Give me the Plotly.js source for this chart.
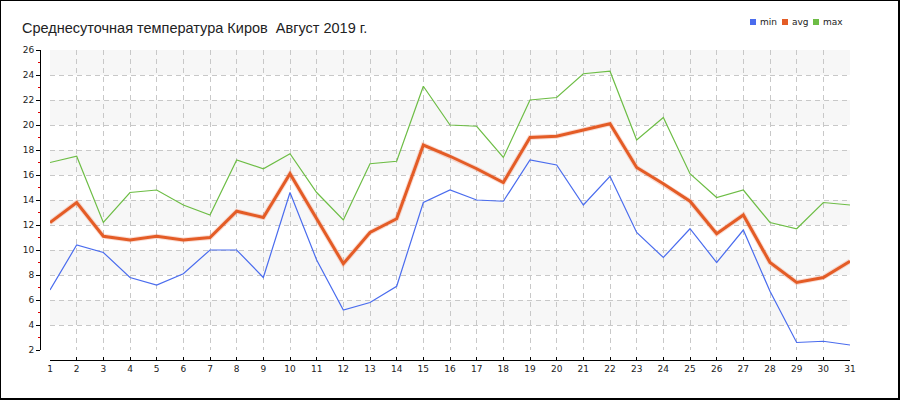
<!DOCTYPE html>
<html>
<head>
<meta charset="utf-8">
<script src="https://cdn.plot.ly/plotly-3.0.1.min.js"></script>
<style>
  html, body { margin: 0; padding: 0; background: #fff; }
  #wrap { position: relative; width: 900px; height: 400px; box-sizing: border-box;
          border-left: 1px solid #000; border-top: 1px solid #000;
          border-right: 2px solid #000; border-bottom: 2px solid #000; overflow: hidden; }
  #chart { position: absolute; left: -1px; top: -1px; width: 900px; height: 400px; }
</style>
</head>
<body>
<div id="wrap"><div id="chart"></div></div>
<script>
const days = [1,2,3,4,5,6,7,8,9,10,11,12,13,14,15,16,17,18,19,20,21,22,23,24,25,26,27,28,29,30,31];
const minT = [6.8,10.4,9.8,7.8,7.2,8.1,10.0,10.0,7.8,14.6,9.2,5.2,5.8,7.1,13.8,14.8,14.0,13.9,17.2,16.8,13.6,15.9,11.4,9.4,11.7,9.0,11.6,6.7,2.6,2.7,2.4];
const avgT = [12.2,13.8,11.1,10.8,11.1,10.8,11.0,13.1,12.6,16.1,12.5,8.9,11.4,12.5,18.4,17.5,16.5,15.4,19.0,19.1,19.6,20.1,16.6,15.3,13.9,11.3,12.8,9.0,7.4,7.8,9.1];
const maxT = [17.0,17.5,12.2,14.6,14.8,13.6,12.8,17.2,16.5,17.7,14.6,12.4,16.9,17.1,23.1,20.0,19.9,17.4,22.0,22.2,24.1,24.3,18.8,20.6,16.1,14.2,14.8,12.2,11.7,13.8,13.6];
const yTicks = [2,4,6,8,10,12,14,16,18,20,22,24,26];
const seriesNames = ['min','avg','max'];
const titleText = 'Среднесуточная температура Киров\u00a0 Август 2019 г.';

const colors = { min: '#4a6cee', avg: '#e45c26', max: '#6dbd45' };

const traces = [
  { x: days, y: maxT, name: 'max', mode: 'lines', line: { color: colors.max, width: 1.2 }, showlegend: false },
  { x: days, y: minT, name: 'min', mode: 'lines', line: { color: colors.min, width: 1.2 }, showlegend: false },
  { x: days, y: avgT, name: 'avg shadow', mode: 'lines', line: { color: 'rgba(240,140,110,0.3)', width: 5 }, showlegend: false, hoverinfo: 'skip' },
  { x: days, y: avgT, name: 'avg', mode: 'lines', line: { color: colors.avg, width: 3 }, showlegend: false }
];

// alternating background bands between even ticks
const shapes = [];
for (let i = 0; i < yTicks.length - 1; i++) {
  if ((yTicks.length - 2 - i) % 2 === 0) {
    shapes.push({ type: 'rect', xref: 'x domain', yref: 'y', x0: 0, x1: 1, y0: yTicks[i], y1: yTicks[i+1],
      fillcolor: '#f7f7f7', line: { width: 0 }, layer: 'below' });
  }
}

// legend built from names: small squares + text at top right
const annotations = [];
const legX = [750, 782, 813];
seriesNames.forEach((n, i) => {
  const px0 = (legX[i] - 40) / 810, px1 = (legX[i] + 6 - 40) / 810;
  shapes.push({ type: 'rect', xref: 'paper', yref: 'paper', x0: px0, x1: px1,
    y0: (360 - 25) / 310, y1: (360 - 19) / 310, fillcolor: colors[n], line: { width: 0 } });
  annotations.push({ text: n, xref: 'paper', yref: 'paper', x: (legX[i] + 8 - 40) / 810, y: (360 - 22) / 310,
    xanchor: 'left', yanchor: 'middle', showarrow: false,
    font: { family: 'DejaVu Sans, sans-serif', size: 9, color: '#222' } });
});

const tickFont = { family: 'DejaVu Sans, sans-serif', size: 9, color: '#222' };

const layout = {
  width: 900, height: 400,
  margin: { l: 40, r: 50, t: 50, b: 40, pad: 0 },
  paper_bgcolor: '#fff', plot_bgcolor: 'rgba(0,0,0,0)',
  showlegend: false,
  title: { text: titleText, x: 22/900, xref: 'container', xanchor: 'left',
           y: 1 - 28/400, yref: 'container', yanchor: 'middle',
           font: { family: 'Liberation Sans, Arial, sans-serif', size: 14.5, color: '#222' } },
  xaxis: {
    domain: [10/810, 1], anchor: 'free', position: 0,
    range: [1, 31], tickvals: days, ticktext: days.map(String),
    showline: true, linecolor: '#000', linewidth: 1,
    ticks: 'inside', ticklen: 3, tickcolor: '#000', tickwidth: 1,
    showgrid: true, gridcolor: '#c8c8c8', griddash: '5px,4px', gridwidth: 1,
    zeroline: false, tickfont: tickFont, fixedrange: true
  },
  yaxis: {
    domain: [10/310, 1], anchor: 'free', position: 0,
    range: [2, 26], tickvals: yTicks, ticktext: yTicks.map(String),
    showline: true, linecolor: '#000', linewidth: 1,
    ticks: 'outside', ticklen: 4, tickcolor: '#000', tickwidth: 1,
    minor: { tickvals: [3,5,7,9,11,13,15,17,19,21,23,25], ticks: 'outside', ticklen: 2, tickcolor: '#e00000', tickwidth: 1, showgrid: false },
    showgrid: true, gridcolor: '#c8c8c8', griddash: '5px,4px', gridwidth: 1,
    zeroline: false, tickfont: tickFont, fixedrange: true
  },
  shapes: shapes,
  annotations: annotations
};

Plotly.newPlot('chart', traces, layout, { displayModeBar: false, staticPlot: true });
</script>
</body>
</html>
